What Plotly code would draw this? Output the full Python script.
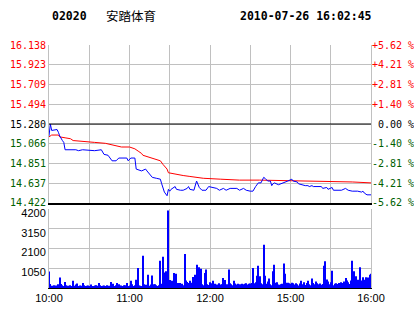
import plotly.graph_objects as go

# ---------------- data ----------------
stock_code = "02020"
stock_name = "安踏体育"
timestamp = "2010-07-26 16:02:45"
prev_close = 15.280

# minute index: 0 = 10:00 ... 150 = 12:30 / 14:30 ... 240 = 16:00
price_min = [0, 1, 2, 6, 7, 8, 10, 11, 12, 20, 22, 25, 34, 39, 41, 44, 47, 50, 52, 58,
             59, 61, 64, 65, 69, 72, 73, 74, 75, 77, 80, 83, 84, 85, 86, 88, 89, 90, 91, 94,
             95, 98, 100, 103, 104, 105, 108, 110, 111, 112, 114, 117, 119, 122, 125, 127, 130, 132, 135, 140,
             142, 145, 147, 150, 152, 154, 156, 158, 160, 161, 163, 165, 166, 167, 168, 171, 175, 176, 178, 181,
             182, 185, 186, 191, 193, 194, 196, 197, 203, 204, 207, 208, 211, 212, 218, 221, 223, 226, 230, 233,
             234, 235, 237, 240]
price = [15.15, 15.28, 15.21, 15.22, 15.19, 15.15, 15.10, 15.08, 15.00, 15.00, 14.99, 15.00, 14.99, 15.00, 14.95, 14.94, 14.88, 14.88, 14.91, 14.91,
         14.88, 14.91, 14.91, 14.79, 14.77, 14.79, 14.77, 14.75, 14.73, 14.70, 14.69, 14.68, 14.63, 14.57, 14.54, 14.50, 14.57, 14.55, 14.57, 14.60,
         14.57, 14.56, 14.56, 14.58, 14.60, 14.57, 14.56, 14.66, 14.63, 14.59, 14.56, 14.56, 14.60, 14.59, 14.58, 14.56, 14.58, 14.56, 14.58, 14.58,
         14.56, 14.58, 14.56, 14.55, 14.55, 14.60, 14.64, 14.64, 14.70, 14.69, 14.66, 14.66, 14.61, 14.63, 14.64, 14.62, 14.64, 14.65, 14.66, 14.68,
         14.66, 14.65, 14.63, 14.61, 14.61, 14.60, 14.61, 14.60, 14.60, 14.58, 14.59, 14.57, 14.59, 14.56, 14.56, 14.58, 14.56, 14.55, 14.55, 14.54,
         14.55, 14.53, 14.51, 14.51]

avg_min = [0, 2, 7, 8, 12, 16, 18, 24, 34, 42, 47, 50, 54, 60, 64, 67, 69, 70, 74, 77,
           79, 83, 85, 88, 89, 95, 100, 105, 110, 115, 128, 142, 157, 206, 226, 240]
avg_price = [15.14, 15.16, 15.16, 15.14, 15.13, 15.12, 15.10, 15.09, 15.08, 15.07, 15.05, 15.04, 15.03, 15.03, 15.01, 14.98, 14.96, 14.94, 14.92, 14.91,
             14.90, 14.88, 14.84, 14.79, 14.75, 14.73, 14.72, 14.71, 14.70, 14.69, 14.68, 14.67, 14.67, 14.66, 14.65, 14.64]

volume = [880, 210, 120, 100, 140, 130, 90, 200, 560, 210, 150, 100, 320, 140, 120, 80, 140, 110, 390, 120,
          180, 240, 100, 130, 120, 270, 140, 90, 120, 130, 100, 180, 110, 60, 130, 150, 120, 270, 140, 100,
          120, 130, 110, 140, 90, 120, 320, 160, 230, 110, 150, 270, 200, 120, 130, 90, 140, 150, 270, 110,
          130, 390, 200, 100, 140, 440, 1060, 130, 120, 100, 1720, 200, 170, 130, 710, 120, 180, 660, 200, 200,
          140, 110, 150, 1450, 230, 1670, 830, 890, 380, 4120, 420, 320, 380, 800, 200, 760, 260, 240, 270, 230,
          150, 1810, 400, 320, 260, 390, 280, 590, 220, 710, 1240, 380, 1100, 1030, 200, 150, 800, 980, 200, 160,
          300, 250, 390, 190, 220, 180, 120, 250, 180, 200, 530, 430, 160, 200, 980, 250, 200, 150, 390, 240,
          190, 230, 200, 140, 230, 200, 220, 250, 180, 230, 240, 260, 1060, 250, 300, 650, 1190, 620, 250, 200,
          2300, 650, 230, 350, 500, 200, 150, 890, 1240, 280, 300, 180, 170, 200, 220, 1300, 760, 280, 280, 250,
          220, 280, 250, 180, 250, 200, 130, 240, 390, 200, 300, 160, 270, 380, 200, 150, 500, 270, 200, 350,
          250, 200, 240, 170, 210, 1190, 1420, 450, 350, 200, 300, 920, 150, 220, 250, 210, 270, 220, 300, 260,
          350, 530, 400, 300, 210, 400, 1450, 890, 350, 620, 440, 270, 1100, 400, 570, 440, 570, 520, 560, 710,
          760]
vol_min = list(range(len(volume)))

price_ticks = [16.138, 15.923, 15.709, 15.494, 15.280, 15.066, 14.851, 14.637, 14.422]
pct_labels = ["+5.62 %", "+4.21 %", "+2.81 %", "+1.40 %", " 0.00 %", "-1.40 %", "-2.81 %", "-4.21 %", "-5.62 %"]
grid_min = [0, 30, 60, 90, 120, 150, 180, 210, 240]
time_labels = ["10:00", "", "11:00", "", "12:00", "", "15:00", "", "16:00"]
vol_ticks = [1050, 2100, 3150, 4200]

# ---------------- styling ----------------
RED = "#ff0000"
GREEN = "#006000"
GRID = "#c0c0c0"
MONO = "DejaVu Sans Mono"
SANS = "Liberation Sans, Arial"

def col(v):
    if abs(v - prev_close) < 1e-6:
        return "#000000"
    return RED if v > prev_close else GREEN

left_text = [f"<span style='color:{col(v)}'>{v:.3f}</span>" for v in price_ticks]
right_text = [f"<span style='color:{col(v)}'>{t.replace(' ', '&nbsp;')}</span>" for v, t in zip(price_ticks, pct_labels)]

lo = prev_close * (1 - 0.0562)
hi = prev_close * (1 + 0.0562)

fig = go.Figure()
fig.add_trace(go.Scatter(x=avg_min, y=avg_price, mode="lines",
                         line=dict(color=RED, width=1), xaxis="x", yaxis="y", hoverinfo="skip"))
fig.add_trace(go.Scatter(x=price_min, y=price, mode="lines",
                         line=dict(color="#0000ff", width=1), xaxis="x", yaxis="y", hoverinfo="skip"))
fig.add_trace(go.Scatter(x=[0, 240], y=[lo, hi], mode="lines",
                         line=dict(color="rgba(0,0,0,0)", width=0), xaxis="x", yaxis="y2", hoverinfo="skip"))
fig.add_trace(go.Bar(x=vol_min, y=volume, width=0.75, marker=dict(color="#0000ff", line=dict(width=0)),
                     xaxis="x2", yaxis="y3", hoverinfo="skip"))

fig.add_shape(type="line", xref="x", yref="y", x0=0, x1=240, y0=prev_close, y1=prev_close,
              line=dict(color="black", width=1))

H_PLOT = 243
fig.update_layout(
    width=414, height=314,
    margin=dict(l=49, r=43, t=45, b=26, autoexpand=False),
    paper_bgcolor="white", plot_bgcolor="white",
    showlegend=False,
    xaxis=dict(domain=[0, 1], anchor="y", range=[0, 240], tickvals=grid_min, showticklabels=False,
               showgrid=True, gridcolor=GRID, gridwidth=1, ticks="", zeroline=False, automargin=False,
               showline=True, linecolor="black", linewidth=1.5),
    yaxis=dict(domain=[0.3498, 1], anchor="x", range=[lo, hi], tickvals=price_ticks, ticktext=left_text,
               tickfont=dict(family=MONO, size=10), showgrid=True, gridcolor=GRID, gridwidth=1,
               zeroline=False, ticks="", showline=True, linecolor=GRID, mirror=True, automargin=False),
    yaxis2=dict(overlaying="y", side="right", anchor="x", range=[lo, hi], tickvals=price_ticks,
                ticktext=right_text, tickfont=dict(family=MONO, size=10), showgrid=False,
                zeroline=False, ticks="", showline=False, automargin=False),
    xaxis2=dict(domain=[0, 1], anchor="y3", range=[0, 240], tickvals=grid_min, ticktext=time_labels,
                tickfont=dict(family=SANS, size=11, color="black"), showgrid=True, gridcolor=GRID,
                gridwidth=1, ticks="", zeroline=False, showline=True, linecolor="black", linewidth=1,
                automargin=False),
    yaxis3=dict(domain=[0, 0.3251], anchor="x2", range=[0, 4205], tickvals=vol_ticks,
                tickfont=dict(family=SANS, size=11, color="black"), showgrid=True, gridcolor=GRID,
                gridwidth=1, zeroline=False, ticks="", showline=True, linecolor=GRID, mirror=True,
                automargin=False, ticklabelshift=4),
    annotations=[
        dict(text=f"<b>{stock_code}</b>", xref="paper", yref="paper", x=(50 - 49) / 322, y=1 + (45 - 16) / H_PLOT,
             xanchor="left", yanchor="middle", showarrow=False, font=dict(family=MONO, size=11.5, color="black")),
        dict(text=stock_name, xref="paper", yref="paper", x=(104 - 49) / 322, y=1 + (45 - 16) / H_PLOT,
             xanchor="left", yanchor="middle", showarrow=False, font=dict(family="Noto Sans CJK SC", size=12.5, color="black")),
        dict(text=f"<b>{timestamp}</b>", xref="paper", yref="paper", x=(238 - 49) / 322, y=1 + (45 - 16) / H_PLOT,
             xanchor="left", yanchor="middle", showarrow=False, font=dict(family=MONO, size=11.5, color="black")),
    ],
)

fig.write_html("out.html")
